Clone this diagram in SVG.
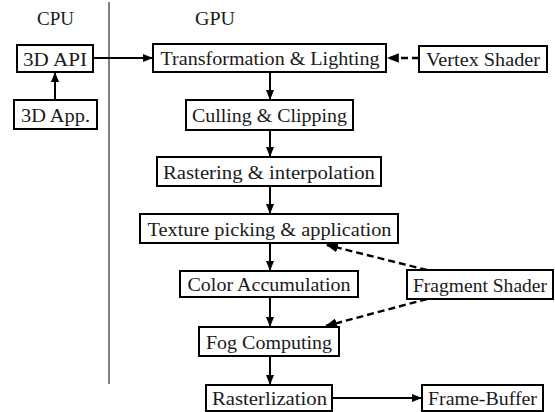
<svg xmlns="http://www.w3.org/2000/svg" width="555" height="412" viewBox="0 0 555 412">
<style>
.box{fill:#fff;stroke:#000;stroke-width:2}
text{font-family:'Liberation Serif','Times New Roman',serif;font-size:19px;fill:#1a1a1a;text-anchor:middle}
.c{stroke:#000;stroke-width:2;fill:none}
.d{stroke:#000;stroke-width:2.4;fill:none;stroke-dasharray:7,4}
</style>
<defs>
<marker id="ah" viewBox="0 0 10 10" refX="9" refY="5" markerWidth="5" markerHeight="5" orient="auto" markerUnits="strokeWidth">
<path d="M0,1 L10,5 L0,9 Z" fill="#000"/>
</marker>
</defs>
<rect width="555" height="412" fill="#fff"/>
<text x="55.5" y="25" textLength="37" lengthAdjust="spacingAndGlyphs">CPU</text>
<text x="215" y="25" textLength="40" lengthAdjust="spacingAndGlyphs">GPU</text>
<line x1="109" y1="2" x2="109" y2="384" stroke="#000" stroke-width="1"/>
<g id="connectors">
<line class="c" x1="55" y1="100" x2="55" y2="73" marker-end="url(#ah)"/>
<line class="c" x1="93" y1="58" x2="152" y2="58" marker-end="url(#ah)"/>
<line class="c" x1="270" y1="72" x2="270" y2="99" marker-end="url(#ah)"/>
<line class="c" x1="270" y1="130" x2="270" y2="156" marker-end="url(#ah)"/>
<line class="c" x1="270" y1="186" x2="270" y2="213" marker-end="url(#ah)"/>
<line class="c" x1="270" y1="243" x2="270" y2="270" marker-end="url(#ah)"/>
<line class="c" x1="270" y1="297" x2="270" y2="326" marker-end="url(#ah)"/>
<line class="c" x1="270" y1="356" x2="270" y2="384" marker-end="url(#ah)"/>
<line class="c" x1="332" y1="398" x2="421" y2="398" marker-end="url(#ah)"/>
<line class="d" x1="419" y1="58" x2="388" y2="58" marker-end="url(#ah)"/>
<line class="d" x1="427" y1="270" x2="327" y2="245" marker-end="url(#ah)"/>
<line class="d" x1="427" y1="299" x2="326" y2="326" marker-end="url(#ah)"/>
</g>
<g id="api"><rect class="box" x="17" y="45" width="76" height="27"/><text x="55" y="65.5" textLength="64" lengthAdjust="spacingAndGlyphs">3D API</text></g>
<g id="app"><rect class="box" x="14" y="100" width="83" height="29"/><text x="55.5" y="121.5" textLength="69" lengthAdjust="spacingAndGlyphs">3D App.</text></g>
<g id="tl"><rect class="box" x="153" y="44" width="233" height="28"/><text x="270" y="65" textLength="219" lengthAdjust="spacingAndGlyphs">Transformation &amp; Lighting</text></g>
<g id="vs"><rect class="box" x="419" y="46" width="128" height="26"/><text x="483" y="66" textLength="114" lengthAdjust="spacingAndGlyphs">Vertex Shader</text></g>
<g id="cc"><rect class="box" x="186" y="100" width="167" height="30"/><text x="269.5" y="122" textLength="155" lengthAdjust="spacingAndGlyphs">Culling &amp; Clipping</text></g>
<g id="ri"><rect class="box" x="157" y="157" width="224" height="29"/><text x="269" y="178.5" textLength="212" lengthAdjust="spacingAndGlyphs">Rastering &amp; interpolation</text></g>
<g id="tp"><rect class="box" x="140" y="214" width="258" height="29"/><text x="269.5" y="235.5" textLength="244" lengthAdjust="spacingAndGlyphs">Texture picking &amp; application</text></g>
<g id="ca"><rect class="box" x="180" y="271" width="178" height="26"/><text x="269" y="291" textLength="163" lengthAdjust="spacingAndGlyphs">Color Accumulation</text></g>
<g id="fs"><rect class="box" x="407" y="270" width="146" height="29"/><text x="480" y="291.5" textLength="134" lengthAdjust="spacingAndGlyphs">Fragment Shader</text></g>
<g id="fc"><rect class="box" x="199" y="327" width="140" height="29"/><text x="269" y="348.5" textLength="126" lengthAdjust="spacingAndGlyphs">Fog Computing</text></g>
<g id="rz"><rect class="box" x="206" y="385" width="126" height="26"/><text x="269.5" y="405" textLength="115" lengthAdjust="spacingAndGlyphs">Rasterlization</text></g>
<g id="fb"><rect class="box" x="422" y="385" width="121" height="26"/><text x="482.5" y="405" textLength="109" lengthAdjust="spacingAndGlyphs">Frame-Buffer</text></g>
</svg>
